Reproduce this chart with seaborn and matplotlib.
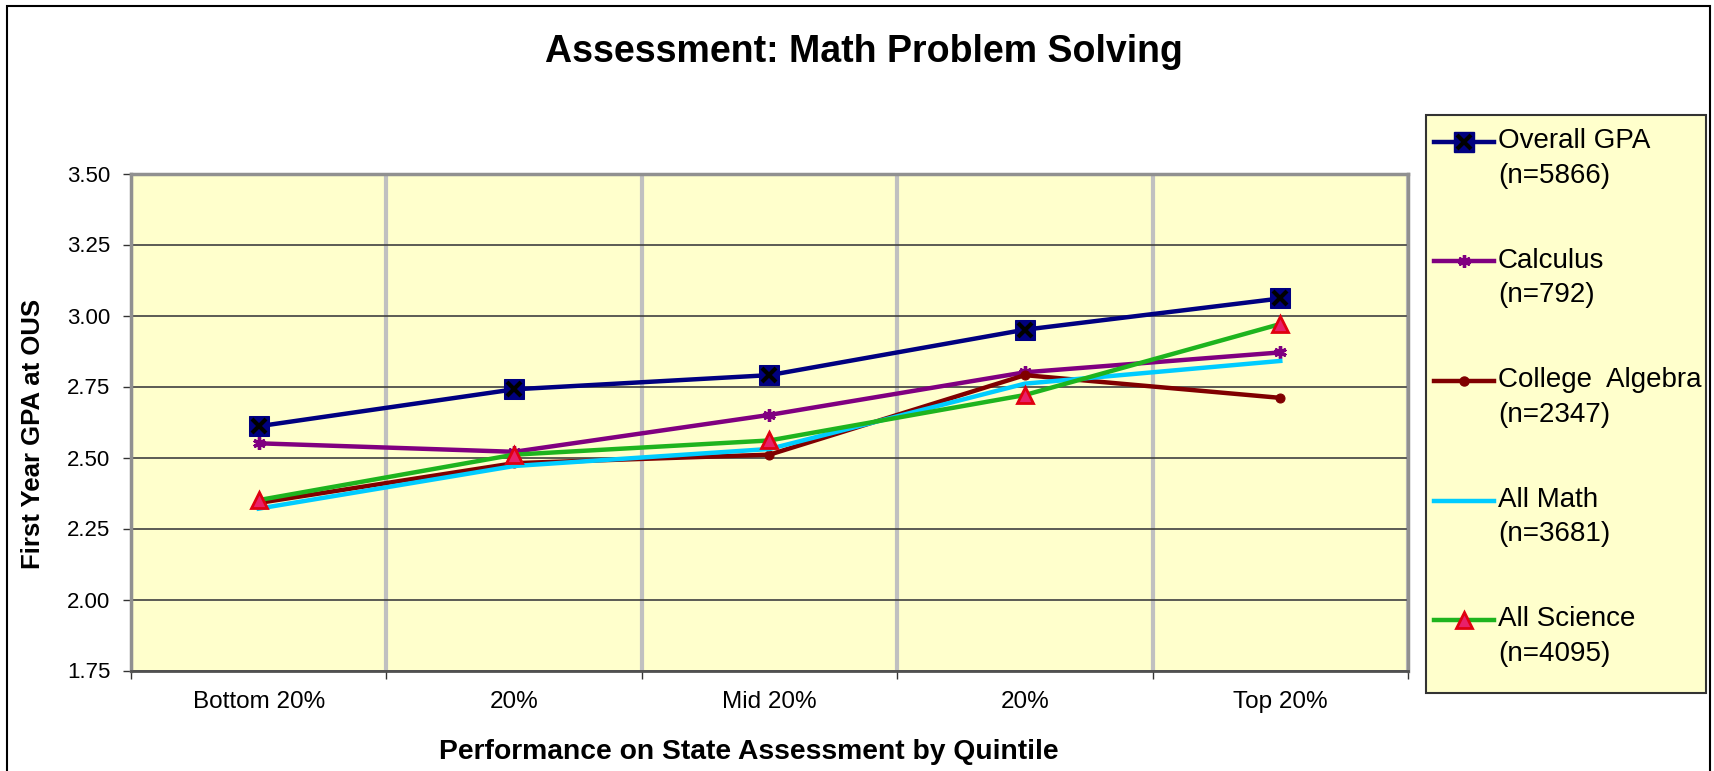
import matplotlib
matplotlib.use("Agg")
import matplotlib.pyplot as plt
from matplotlib.lines import Line2D
from matplotlib.patches import Rectangle
from matplotlib.legend_handler import HandlerTuple, HandlerLine2D
from matplotlib.ticker import FixedLocator, FormatStrFormatter
import seaborn as sns
import pandas as pd

# data
quintile = [1, 2, 3, 4, 5]
tick_labels = ["Bottom 20%", "20%", "Mid 20%", "20%", "Top 20%"]
overall_gpa = [2.61, 2.74, 2.79, 2.95, 3.06]
calculus = [2.55, 2.52, 2.65, 2.80, 2.87]
college_algebra = [2.34, 2.48, 2.51, 2.79, 2.71]
all_math = [2.32, 2.47, 2.53, 2.76, 2.84]
all_science = [2.35, 2.51, 2.56, 2.72, 2.97]
series_names = ["Overall GPA\n(n=5866)", "Calculus\n(n=792)", "College  Algebra\n(n=2347)",
                "All Math\n(n=3681)", "All Science\n(n=4095)"]

plt.rcParams['font.family'] = ['Liberation Sans', 'DejaVu Sans']

df = pd.DataFrame({
    "quintile": quintile,
    "overall": overall_gpa,
    "calculus": calculus,
    "algebra": college_algebra,
    "math": all_math,
    "science": all_science,
})


# legend handle lifted to sit beside the first line of a two-line label
class TopLineHandler(HandlerLine2D):
    shift = 24

    def create_artists(self, legend, orig_handle, xdescent, ydescent, width, height, fontsize, trans):
        return super().create_artists(legend, orig_handle, xdescent, ydescent - self.shift,
                                      width, height, fontsize, trans)


fig = plt.figure(figsize=(17.15, 7.71), dpi=100)
ax = fig.add_axes([131/1715, 1-670.5/771, (1408-131)/1715, (670.5-173.5)/771])
ax.set_facecolor("#FFFFCC")

lw = 3.2
# Overall GPA: navy square with black x on top
sns.lineplot(data=df, x="quintile", y="overall", ax=ax, color="#000080", lw=lw,
             marker="s", markersize=14, markerfacecolor="#000080", markeredgecolor="#000080", zorder=3)
sns.lineplot(data=df, x="quintile", y="overall", ax=ax, color="black", lw=0,
             marker="x", markersize=10, markeredgewidth=3, markeredgecolor="black", zorder=4)
sns.lineplot(data=df, x="quintile", y="calculus", ax=ax, color="#800080", lw=lw,
             marker=(6, 2, 0), markersize=9, markeredgewidth=2.4, markeredgecolor="#800080", zorder=3)
sns.lineplot(data=df, x="quintile", y="algebra", ax=ax, color="#800000", lw=lw,
             marker="o", markersize=6.5, markerfacecolor="#800000", markeredgecolor="#800000", zorder=3)
sns.lineplot(data=df, x="quintile", y="math", ax=ax, color="#00CCFF", lw=lw, zorder=3)
sns.lineplot(data=df, x="quintile", y="science", ax=ax, color="#1EB41E", lw=lw,
             marker="^", markersize=11, markerfacecolor="#E8206A", markeredgecolor="#E00010",
             markeredgewidth=2, zorder=5)

ax.set_xlim(0.5, 5.5)
ax.set_ylim(1.75, 3.50)
ax.set_xticks(quintile)
ax.set_xticklabels(tick_labels, fontsize=17.5)
ax.xaxis.set_minor_locator(FixedLocator([0.5, 1.5, 2.5, 3.5, 4.5, 5.5]))
ax.tick_params(axis="x", which="major", length=0, pad=15)
ax.tick_params(axis="x", which="minor", length=6, width=1, color="#333333", direction="out")
ax.set_yticks([1.75, 2.00, 2.25, 2.50, 2.75, 3.00, 3.25, 3.50])
ax.yaxis.set_major_formatter(FormatStrFormatter("%.2f"))
ax.tick_params(axis="y", labelsize=16, length=6, width=1, pad=9, color="#333333")
ax.grid(axis="y", which="major", color="#404040", lw=1.2, zorder=1)
ax.grid(axis="x", which="minor", color="#C0C0C0", lw=3, zorder=1)
ax.set_axisbelow(True)
for side in ["top", "right", "left"]:
    ax.spines[side].set_color("#909090")
    ax.spines[side].set_linewidth(2.5)
ax.spines["bottom"].set_color("#505050")
ax.spines["bottom"].set_linewidth(2)
ax.set_xlabel("")
ax.set_ylabel("")

fig.text(864/1715, 1-52/771, "Assessment: Math Problem Solving", ha="center", va="center",
         fontsize=27, fontweight="bold")
fig.text(749/1715, 1-752/771, "Performance on State Assessment by Quintile", ha="center", va="center",
         fontsize=20.3, fontweight="bold")
fig.text(33/1715, 1-434/771, "First Year GPA at OUS", ha="center", va="center", rotation=90,
         fontsize=18.5, fontweight="bold")

# legend box
fig.patches.append(Rectangle((1426/1715, 1-693/771), (1706-1426)/1715, (693-115)/771,
                             transform=fig.transFigure, facecolor="#FFFFCC", edgecolor="#333333",
                             lw=1.5, zorder=0))
handles = [
    (Line2D([], [], color="#000080", lw=lw, marker="s", markersize=14, markerfacecolor="#000080",
            markeredgecolor="#000080"),
     Line2D([], [], color="black", lw=0, marker="x", markersize=10, markeredgewidth=3)),
    Line2D([], [], color="#800080", lw=lw, marker=(6, 2, 0), markersize=9, markeredgewidth=2.4,
           markeredgecolor="#800080"),
    Line2D([], [], color="#800000", lw=lw, marker="o", markersize=6.5, markerfacecolor="#800000",
           markeredgecolor="#800000"),
    Line2D([], [], color="#00CCFF", lw=lw),
    Line2D([], [], color="#1EB41E", lw=lw, marker="^", markersize=11, markerfacecolor="#E8206A",
           markeredgecolor="#E00010", markeredgewidth=2),
]
leg = fig.legend(handles, series_names, loc="upper left", bbox_to_anchor=(1423/1715, 1-117/771),
                 frameon=False, fontsize=20, labelspacing=2.13, handlelength=2.15, handletextpad=0.15,
                 borderaxespad=0,
                 handler_map={Line2D: TopLineHandler(), tuple: HandlerTuple(ndivide=1, pad=0)})
for t in leg.get_texts():
    t.set_linespacing(1.42)

# outer border
fig.patches.append(Rectangle((7.5/1715, -0.02), (1710-7.5)/1715, 1.02-6.5/771,
                             transform=fig.transFigure, fill=False, edgecolor="black", lw=1.5))

fig.savefig("out.png", dpi=100, facecolor="white")
